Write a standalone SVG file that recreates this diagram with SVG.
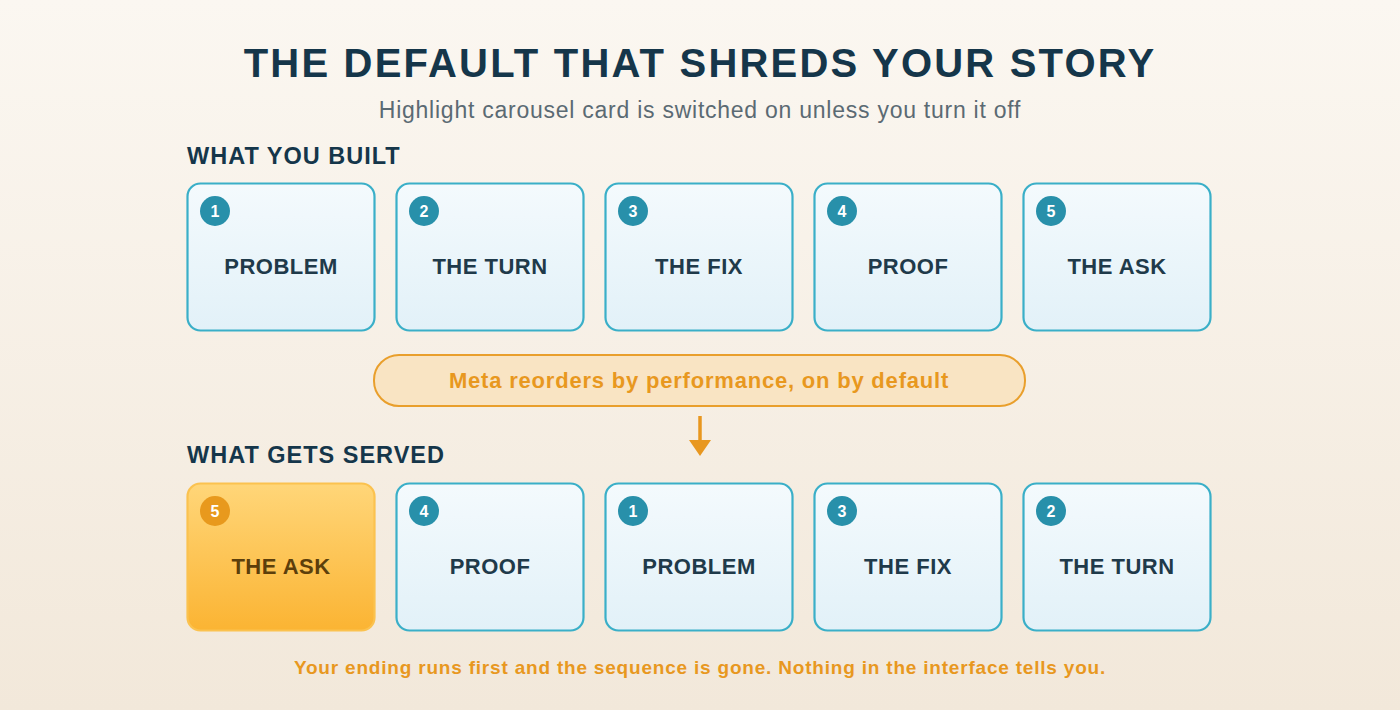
<svg xmlns="http://www.w3.org/2000/svg" width="1400" height="710" viewBox="0 0 1400 710">
<defs>
<linearGradient id="bg" x1="0" y1="0" x2="0" y2="1"><stop offset="0" stop-color="#fbf7f1"/><stop offset="1" stop-color="#f2e8da"/></linearGradient>
<linearGradient id="card" x1="0" y1="0" x2="0" y2="1"><stop offset="0" stop-color="#f4fafd"/><stop offset="1" stop-color="#e2f1f8"/></linearGradient>
<linearGradient id="hot" x1="0" y1="0" x2="0" y2="1"><stop offset="0" stop-color="#ffd679"/><stop offset="1" stop-color="#fbb433"/></linearGradient>
<marker id="ah" markerWidth="16" markerHeight="22" refX="0" refY="11" orient="auto" markerUnits="userSpaceOnUse" viewBox="0 0 16 22"><path d="M0,0 L16,11 L0,22 Z" fill="#e8971f"/></marker>
</defs>
<style>
text{font-family:"Liberation Sans",Arial,sans-serif}
.card{fill:url(#card);stroke:#3aafc8;stroke-width:2.2}
.hotc{fill:url(#hot);stroke:#fbc24f;stroke-width:2.2}
.badge{fill:#2890aa}
.hbadge{fill:#e8991d}
.num{fill:#fff;font-size:16px;font-weight:bold;text-anchor:middle}
.lbl{fill:#1f3a4a;font-size:22px;font-weight:bold;text-anchor:middle;letter-spacing:0.5px}
.hlbl{fill:#5c3f0b;font-size:22px;font-weight:bold;text-anchor:middle;letter-spacing:0.5px}
.sec{fill:#15364a;font-size:23.5px;font-weight:bold;letter-spacing:1px}
</style>
<rect width="1400" height="710" fill="url(#bg)"/>
<text x="700" y="77" text-anchor="middle" font-size="40" font-weight="bold" fill="#15364a" letter-spacing="2.2">THE DEFAULT THAT SHREDS YOUR STORY</text>
<text x="700" y="118" text-anchor="middle" font-size="23" fill="#5b6a73" letter-spacing="0.75">Highlight carousel card is switched on unless you turn it off</text>
<text class="sec" x="187" y="164">WHAT YOU BUILT</text>
<text class="sec" x="187" y="463">WHAT GETS SERVED</text>

<g id="top1"><rect class="card" x="187.5" y="183.5" width="187" height="147" rx="13"/><circle class="badge" cx="215" cy="211" r="15"/><text class="num" x="215" y="217">1</text><text class="lbl" x="281" y="274">PROBLEM</text></g>
<g id="top2"><rect class="card" x="396.5" y="183.5" width="187" height="147" rx="13"/><circle class="badge" cx="424" cy="211" r="15"/><text class="num" x="424" y="217">2</text><text class="lbl" x="490" y="274">THE TURN</text></g>
<g id="top3"><rect class="card" x="605.5" y="183.5" width="187" height="147" rx="13"/><circle class="badge" cx="633" cy="211" r="15"/><text class="num" x="633" y="217">3</text><text class="lbl" x="699" y="274">THE FIX</text></g>
<g id="top4"><rect class="card" x="814.5" y="183.5" width="187" height="147" rx="13"/><circle class="badge" cx="842" cy="211" r="15"/><text class="num" x="842" y="217">4</text><text class="lbl" x="908" y="274">PROOF</text></g>
<g id="top5"><rect class="card" x="1023.5" y="183.5" width="187" height="147" rx="13"/><circle class="badge" cx="1051" cy="211" r="15"/><text class="num" x="1051" y="217">5</text><text class="lbl" x="1117" y="274">THE ASK</text></g>

<g id="meta"><rect x="374" y="355" width="651" height="51" rx="25" fill="#f9e4c3" stroke="#e99f2c" stroke-width="2"/><text x="699" y="388" text-anchor="middle" font-size="22" font-weight="bold" fill="#e8981f" letter-spacing="0.8">Meta reorders by performance, on by default</text></g>

<g id="connectors"><line x1="700" y1="416" x2="700" y2="440" stroke="#e8971f" stroke-width="3.5" marker-end="url(#ah)"/></g>

<g id="bot1"><rect class="hotc" x="187.5" y="483.5" width="187" height="147" rx="13"/><circle class="hbadge" cx="215" cy="511" r="15"/><text class="num" x="215" y="517">5</text><text class="hlbl" x="281" y="574">THE ASK</text></g>
<g id="bot2"><rect class="card" x="396.5" y="483.5" width="187" height="147" rx="13"/><circle class="badge" cx="424" cy="511" r="15"/><text class="num" x="424" y="517">4</text><text class="lbl" x="490" y="574">PROOF</text></g>
<g id="bot3"><rect class="card" x="605.5" y="483.5" width="187" height="147" rx="13"/><circle class="badge" cx="633" cy="511" r="15"/><text class="num" x="633" y="517">1</text><text class="lbl" x="699" y="574">PROBLEM</text></g>
<g id="bot4"><rect class="card" x="814.5" y="483.5" width="187" height="147" rx="13"/><circle class="badge" cx="842" cy="511" r="15"/><text class="num" x="842" y="517">3</text><text class="lbl" x="908" y="574">THE FIX</text></g>
<g id="bot5"><rect class="card" x="1023.5" y="483.5" width="187" height="147" rx="13"/><circle class="badge" cx="1051" cy="511" r="15"/><text class="num" x="1051" y="517">2</text><text class="lbl" x="1117" y="574">THE TURN</text></g>

<text x="700" y="674" text-anchor="middle" font-size="19" font-weight="bold" fill="#e8981f" letter-spacing="0.8">Your ending runs first and the sequence is gone. Nothing in the interface tells you.</text>
</svg>
